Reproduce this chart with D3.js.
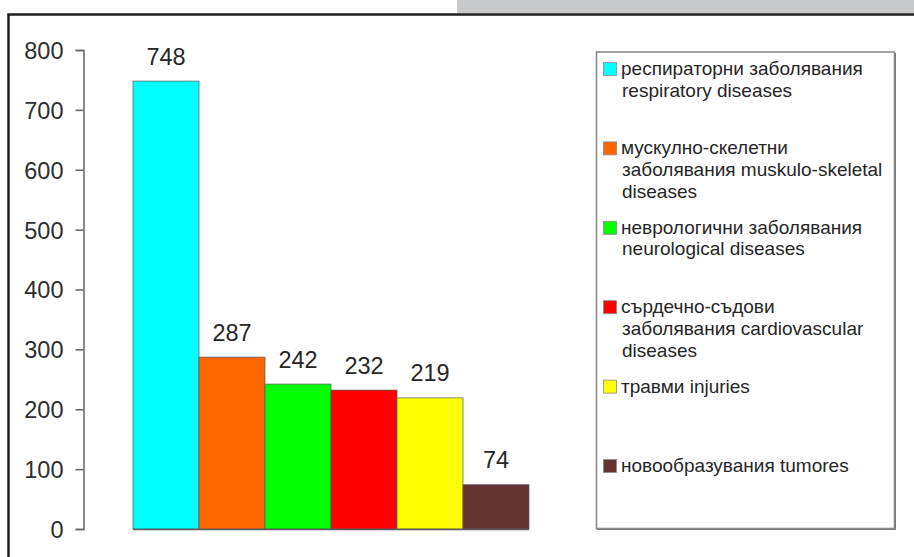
<!DOCTYPE html>
<html>
<head>
<meta charset="utf-8">
<script src="https://cdn.jsdelivr.net/npm/d3@7"></script>
<style>
  html, body { margin: 0; padding: 0; background: #fff; }
  svg { display: block; font-family: "Liberation Sans", Arial, Helvetica, sans-serif; }
</style>
</head>
<body>
<svg id="chart" width="914" height="557"></svg>
<script>
// Cases by disease group
const categories = [
  ["респираторни заболявания", "respiratory diseases"],
  ["мускулно-скелетни", "заболявания muskulo-skeletal", "diseases"],
  ["неврологични заболявания", "neurological diseases"],
  ["сърдечно-съдови", "заболявания cardiovascular", "diseases"],
  ["травми injuries"],
  ["новообразувания tumores"]
];
const values = [748, 287, 242, 232, 219, 74];
const colors = ["#00ffff", "#ff6600", "#00ff00", "#ff0000", "#ffff00", "#663333"];
const yTicks = [0, 100, 200, 300, 400, 500, 600, 700, 800];

const svg = d3.select("#chart");

// page header strip and frame
svg.append("rect").attr("x", 457).attr("y", 0).attr("width", 457).attr("height", 13)
  .attr("fill", "#c8c9cb");
svg.append("path").attr("d", "M8.5,557 V14.5 H914")
  .attr("fill", "none").attr("stroke", "#1e1e1e").attr("stroke-width", 2.5);

const y = d3.scaleLinear().domain([0, 800]).range([529, 50]);
const x = d3.scaleBand().domain(d3.range(values.length)).range([133, 529]).padding(0);

// y axis
const yAxis = d3.axisLeft(y).tickValues(yTicks).tickSize(8).tickPadding(12);
const gy = svg.append("g").attr("transform", "translate(83.5,0)").call(yAxis);
gy.select(".domain").attr("stroke", "#6b6b6b").attr("stroke-width", 1.6);
gy.selectAll(".tick line").attr("stroke", "#6b6b6b").attr("stroke-width", 1.6);
gy.selectAll(".tick text").attr("fill", "#2e2e2e").style("font-size", "23.5px")
  .attr("dy", "0.36em");

// bars
svg.append("g").selectAll("rect").data(values).join("rect")
  .attr("x", (d, i) => x(i))
  .attr("y", d => y(d))
  .attr("width", x.bandwidth())
  .attr("height", d => y(0) - y(d))
  .attr("fill", (d, i) => colors[i])
  .attr("stroke", "#555")
  .attr("stroke-opacity", 0.7)
  .attr("stroke-width", 1);

// baseline under bars
svg.append("line").attr("x1", x(0)).attr("x2", x(values.length - 1) + x.bandwidth())
  .attr("y1", y(0) + 0.5).attr("y2", y(0) + 0.5)
  .attr("stroke", "#5a5a5a").attr("stroke-width", 1.5);

// value labels
svg.append("g").selectAll("text").data(values).join("text")
  .attr("x", (d, i) => x(i) + x.bandwidth() / 2)
  .attr("y", d => y(d) - 16.5)
  .attr("text-anchor", "middle")
  .attr("fill", "#262626")
  .style("font-size", "23.5px")
  .text(d => d);

// legend
const legend = svg.append("g");
legend.append("rect").attr("x", 596.5).attr("y", 52).attr("width", 298).attr("height", 476.5)
  .attr("fill", "#fff").attr("stroke", "#8a8a8a").attr("stroke-width", 1.6);
legend.append("path").attr("d", "M597,529.5 H895.5 V53")
  .attr("fill", "none").attr("stroke", "#777").attr("stroke-width", 1);

const entryY = d3.scaleLinear().domain([0, 5]).range([75, 472]);
const items = legend.selectAll("g.item").data(categories).join("g").attr("class", "item")
  .attr("transform", (d, i) => `translate(0,${entryY(i)})`);
items.append("rect").attr("x", 603.5).attr("y", -12.5).attr("width", 13).attr("height", 13)
  .attr("fill", (d, i) => colors[i]).attr("stroke", "#8a8a8a").attr("stroke-width", 0.8);
items.append("text")
  .attr("x", 621)
  .attr("fill", "#262626")
  .style("font-size", "19px")
  .selectAll("tspan").data(d => d).join("tspan")
  .attr("x", (d, j) => j === 0 ? 621 : 622)
  .attr("y", (d, j) => j * 21.7)
  .text(d => d);
</script>
</body>
</html>
